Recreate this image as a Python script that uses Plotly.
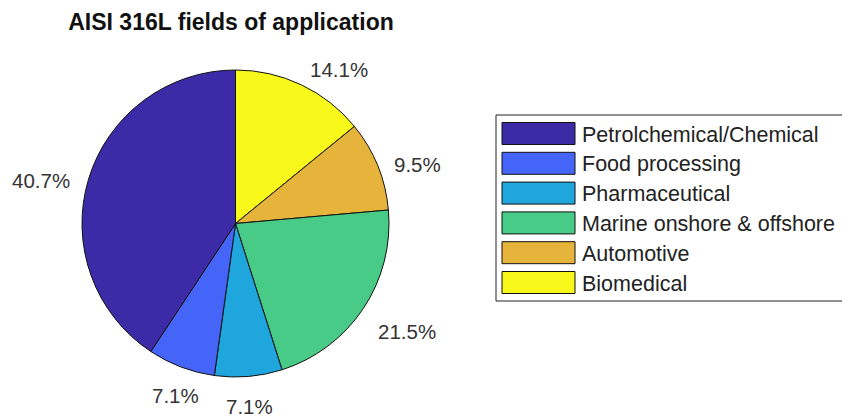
import math
import plotly.graph_objects as go

categories = ["Petrolchemical/Chemical", "Food processing", "Pharmaceutical",
              "Marine onshore & offshore", "Automotive", "Biomedical"]
values = [40.7, 7.1, 7.1, 21.5, 9.5, 14.1]
colors = ["#3d2aa6", "#4465f7", "#1ea6dd", "#48cb87", "#e6b43a", "#f8f81a"]

# page has an 8px body margin; place everything relative to the figure origin
OFF = 8
W, H = 850 - OFF, 419 - OFF


def px(x):
    return (x - OFF) / W


def py(y):
    return 1 - (y - OFF) / H


FONT = "Liberation Sans, Arial"

# pie box (page pixels)
PX0, PX1, PY0, PY1 = 82, 389, 70, 377
CX, CY = (PX0 + PX1) / 2, (PY0 + PY1) / 2
R = (PX1 - PX0) / 2

fig = go.Figure()
# MATLAB draws slices counter-clockwise from 12 o'clock; plotly's clockwise with
# reversed order gives the same arrangement
fig.add_trace(go.Pie(
    labels=categories[::-1], values=values[::-1], sort=False, direction="clockwise",
    rotation=0,
    marker=dict(colors=colors[::-1], line=dict(color="#111111", width=1)),
    textinfo="none",
    domain=dict(x=[px(PX0), px(PX1)], y=[py(PY1), py(PY0)]),
    showlegend=False, hoverinfo="label+percent",
))

# percentage labels placed MATLAB-style at 1.1 R along each slice's mid-angle
total = sum(values)
start = 0.0
for v in values:
    mid = (start + v / 2) / total * 2 * math.pi  # counter-clockwise from 12 o'clock
    start += v
    dx, dy = -math.sin(mid), -math.cos(mid)  # screen direction (y down)
    lx, ly = CX + 1.1 * R * dx, CY + 1.1 * R * dy
    if dx > 0.4:
        xa, xs = "left", 0
    elif dx < -0.4:
        xa, xs = "right", -2
    else:
        xa, xs = "center", 0
    if dy > 0.5:
        ya, ys = "top", -1
    else:
        ya, ys = "middle", -(9.5 - 12 * abs(dy))
    fig.add_annotation(x=px(lx), y=py(ly), xref="paper", yref="paper",
                       text=f"{v:.1f}%", showarrow=False, xanchor=xa, yanchor=ya,
                       xshift=xs, yshift=ys,
                       font=dict(family=FONT, size=20.5, color="#333333"))

# custom legend built from categories and colors
lx0, lx1, ly0, ly1 = 496, 844, 115, 301
fig.add_shape(type="rect", xref="paper", yref="paper",
              x0=px(lx0), x1=px(lx1), y0=py(ly1), y1=py(ly0),
              line=dict(color="#222222", width=1), fillcolor="white")
row0, row_step = 133.5, 29.8
for i, (cat, col) in enumerate(zip(categories, colors)):
    yc = row0 + row_step * i
    fig.add_shape(type="rect", xref="paper", yref="paper",
                  x0=px(502), x1=px(575), y0=py(yc + 11), y1=py(yc - 11),
                  line=dict(color="#111111", width=1), fillcolor=col)
    fig.add_annotation(x=px(580), y=py(yc + 1), xref="paper", yref="paper",
                       text=cat, showarrow=False, xanchor="left", yanchor="middle",
                       font=dict(family=FONT, size=21.5, color="#222222"))

fig.update_layout(
    width=W, height=H, margin=dict(l=0, r=0, t=0, b=0),
    paper_bgcolor="white", plot_bgcolor="white",
    title=dict(text="<b>AISI 316L fields of application</b>", x=px(231), xanchor="center",
               y=py(22), yanchor="middle",
               font=dict(family=FONT, size=23, color="#111111")),
)
fig.write_html("out.html")
